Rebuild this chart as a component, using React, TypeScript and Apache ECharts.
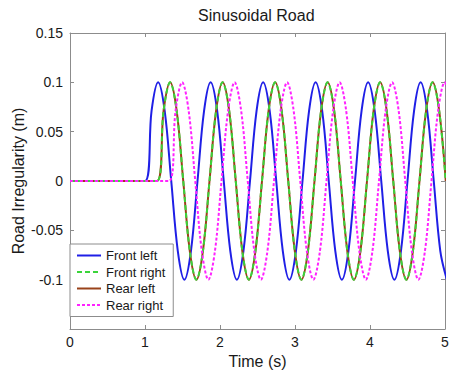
import React, { useEffect, useRef } from "react";
import * as echarts from "echarts";

const chartTitle = "Sinusoidal Road";
const xAxisName = "Time (s)";
const yAxisName = "Road Irregularity (m)";
const seriesNames = ["Front left", "Front right", "Rear left", "Rear right"];
const xTicks = [0, 1, 2, 3, 4, 5];
const yTicks = [-0.15, -0.1, -0.05, 0, 0.05, 0.1, 0.15];

// Road profile value read at each sample (one sample every 1/8 of the 0.7 s period)
const waveValues = [
  0, 0.071, 0.1, 0.071, 0, -0.071, -0.1, -0.071,
  0, 0.071, 0.1, 0.071, 0, -0.071, -0.1, -0.071,
  0, 0.071, 0.1, 0.071, 0, -0.071, -0.1, -0.071,
  0, 0.071, 0.1, 0.071, 0, -0.071, -0.1, -0.071,
  0, 0.071, 0.1, 0.071, 0, -0.071, -0.1, -0.071,
  0, 0.071, 0.1, 0.071, 0, -0.071, -0.1,
];

// Sample times (s) for each wheel
const frontLeftTimes = [
  1.0, 1.0875, 1.175, 1.2625, 1.35, 1.4375, 1.525, 1.6125, 1.7, 1.7875, 1.875, 1.9625,
  2.05, 2.1375, 2.225, 2.3125, 2.4, 2.4875, 2.575, 2.6625, 2.75, 2.8375, 2.925, 3.0125,
  3.1, 3.1875, 3.275, 3.3625, 3.45, 3.5375, 3.625, 3.7125, 3.8, 3.8875, 3.975, 4.0625,
  4.15, 4.2375, 4.325, 4.4125, 4.5, 4.5875, 4.675, 4.7625, 4.85, 4.9375, 5.025,
];
const frontRightTimes = [
  1.16, 1.2475, 1.335, 1.4225, 1.51, 1.5975, 1.685, 1.7725, 1.86, 1.9475, 2.035, 2.1225,
  2.21, 2.2975, 2.385, 2.4725, 2.56, 2.6475, 2.735, 2.8225, 2.91, 2.9975, 3.085, 3.1725,
  3.26, 3.3475, 3.435, 3.5225, 3.61, 3.6975, 3.785, 3.8725, 3.96, 4.0475, 4.135, 4.2225,
  4.31, 4.3975, 4.485, 4.5725, 4.66, 4.7475, 4.835, 4.9225, 5.01,
];
const rearLeftTimes = [
  1.16, 1.2475, 1.335, 1.4225, 1.51, 1.5975, 1.685, 1.7725, 1.86, 1.9475, 2.035, 2.1225,
  2.21, 2.2975, 2.385, 2.4725, 2.56, 2.6475, 2.735, 2.8225, 2.91, 2.9975, 3.085, 3.1725,
  3.26, 3.3475, 3.435, 3.5225, 3.61, 3.6975, 3.785, 3.8725, 3.96, 4.0475, 4.135, 4.2225,
  4.31, 4.3975, 4.485, 4.5725, 4.66, 4.7475, 4.835, 4.9225, 5.01,
];
const rearRightTimes = [
  1.32, 1.4075, 1.495, 1.5825, 1.67, 1.7575, 1.845, 1.9325, 2.02, 2.1075, 2.195, 2.2825,
  2.37, 2.4575, 2.545, 2.6325, 2.72, 2.8075, 2.895, 2.9825, 3.07, 3.1575, 3.245, 3.3325,
  3.42, 3.5075, 3.595, 3.6825, 3.77, 3.8575, 3.945, 4.0325, 4.12, 4.2075, 4.295, 4.3825,
  4.47, 4.5575, 4.645, 4.7325, 4.82, 4.9075, 4.995, 5.0825,
];

const FONT = "'Liberation Sans', Arial, Helvetica, sans-serif";
const AXIS_GRAY = "#8c8c8c";

function buildData(times: number[]) {
  const pts: number[][] = [[xTicks[0], 0]];
  times.forEach((t, i) => pts.push([t, waveValues[i]]));
  return pts;
}

export default function App() {
  const ref = useRef<HTMLDivElement>(null);
  useEffect(() => {
    if (!ref.current) return;
    const chart = echarts.init(ref.current, undefined, { renderer: "svg" });
    const yMin = yTicks[0];
    const yMax = yTicks[yTicks.length - 1];
    const baseX = {
      type: "value" as const,
      min: xTicks[0],
      max: xTicks[xTicks.length - 1],
      interval: 1,
      splitLine: { show: false },
      axisLine: { show: true, onZero: false, lineStyle: { color: AXIS_GRAY, width: 1 } },
      axisTick: { show: true, inside: true, length: 4, lineStyle: { color: AXIS_GRAY } },
    };
    const baseY = {
      type: "value" as const,
      min: yMin,
      max: yMax,
      interval: 0.05,
      splitLine: { show: false },
      axisLine: { show: true, onZero: false, lineStyle: { color: AXIS_GRAY, width: 1 } },
      axisTick: { show: true, inside: true, length: 4, lineStyle: { color: AXIS_GRAY } },
    };
    const mk = (name: string, times: number[], color: string, type: any, z: number) => ({
      name,
      type: "line",
      data: buildData(times),
      showSymbol: false,
      symbol: "none",
      smooth: 0.35,
      clip: true,
      z,
      lineStyle: { color, width: 2, type },
      itemStyle: { color },
    });
    chart.setOption({
      animation: false,
      backgroundColor: "#ffffff",
      title: {
        text: chartTitle,
        left: 198,
        top: 7,
        padding: 0,
        textStyle: { fontFamily: FONT, fontSize: 16, fontWeight: "normal", color: "#1a1a1a" },
      },
      grid: { left: 70, right: 4, top: 33, bottom: 41, containLabel: false, outerBoundsMode: "none" },
      xAxis: [
        {
          ...baseX,
          position: "bottom",
          name: xAxisName,
          nameLocation: "middle",
          nameGap: 24,
          nameMoveOverlap: false,
          nameTextStyle: { fontFamily: FONT, fontSize: 16, color: "#1a1a1a" },
          axisLabel: { fontFamily: FONT, fontSize: 14, color: "#1a1a1a", margin: 6 },
        },
        { ...baseX, position: "top", axisLabel: { show: false } },
      ],
      yAxis: [
        {
          ...baseY,
          position: "left",
          name: yAxisName,
          nameLocation: "middle",
          nameGap: 44,
          nameMoveOverlap: false,
          nameTextStyle: { fontFamily: FONT, fontSize: 16, color: "#1a1a1a" },
          axisLabel: {
            fontFamily: FONT,
            fontSize: 14,
            color: "#1a1a1a",
            margin: 7,
            formatter: (v: number) => (Math.abs(v - yMin) < 1e-9 ? "" : String(Math.round(v * 100) / 100)),
          },
        },
        { ...baseY, position: "right", axisLabel: { show: false } },
      ],
      legend: {
        data: seriesNames,
        orient: "vertical",
        left: 70,
        top: 244,
        padding: [5, 8, 5, 6],
        itemWidth: 24,
        itemHeight: 14,
        itemGap: 3.5,
        itemStyle: { opacity: 0 },
        backgroundColor: "#ffffff",
        borderColor: "#8c8c8c",
        borderWidth: 1,
        borderRadius: 0,
        textStyle: { fontFamily: FONT, fontSize: 13, color: "#1a1a1a" },
      },
      series: [
        mk(seriesNames[0], frontLeftTimes, "#1f1fe6", "solid", 2),
        mk(seriesNames[2], rearLeftTimes, "#99421a", "solid", 3),
        mk(seriesNames[1], frontRightTimes, "#3ad43a", [5, 3], 4),
        mk(seriesNames[3], rearRightTimes, "#ff22ff", [3, 2], 5),
      ],
    });
    return () => chart.dispose();
  }, []);
  return (
    <div
      ref={ref}
      style={{ position: "fixed", left: 0, top: 0, width: 449, height: 370, background: "#fff" }}
    />
  );
}
